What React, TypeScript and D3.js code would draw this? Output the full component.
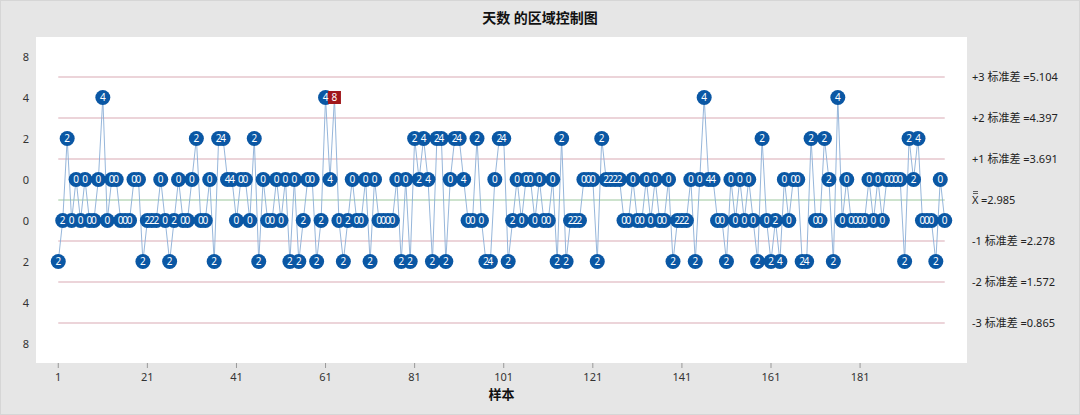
import React from "react";
import * as d3 from "d3";

// zone codes per sample: +1 = C above, +2 = B above, +3 = A above; negatives below centre
const zones: number[] = [
  -2, -1, 2, -1, 1, -1, 1, -1, -1, 1,
  3, -1, 1, 1, -1, -1, -1, 1, 1, -2,
  -1, -1, -1, 1, -1, -2, -1, 1, -1, -1,
  1, 2, -1, -1, 1, -2, 2, 2, 1, 1,
  -1, 1, 1, -1, 2, -2, 1, -1, -1, 1,
  -1, 1, -2, 1, -2, -1, 1, 1, -2, -1,
  3, 1, 3, -1, -2, -1, 1, -1, -1, 1,
  -2, 1, -1, -1, -1, -1, 1, -2, 1, -2,
  2, 1, 2, 1, -2, 2, 2, -2, 1, 2,
  2, 1, -1, -1, 2, -1, -2, -2, 1, 2,
  2, -2, -1, 1, -1, 1, 1, -1, 1, -1,
  -1, 1, -2, 2, -2, -1, -1, -1, 1, 1,
  1, -2, 2, 1, 1, 1, 1, -1, -1, 1,
  -1, -1, 1, -1, 1, -1, -1, 1, -2, -1,
  -1, -1, 1, -2, 1, 3, 1, 1, -1, -1,
  -2, 1, -1, 1, -1, 1, -1, -2, 2, -1,
  -2, -1, -2, 1, -1, 1, 1, -2, -2, 2,
  -1, -1, 2, 1, -2, 3, -1, 1, -1, -1,
  -1, -1, 1, -1, 1, -1, 1, 1, 1, 1,
  -2, 2, 1, 2, -1, -1, -1, -2, 1, -1,
];

const zoneWeights: number[] = [0, 2, 4, 8]; // C, B, A, beyond
const yTickLabels: string[] = ["8", "4", "2", "0", "0", "2", "4", "8"];
const yTickPos: number[] = [3.5, 2.5, 1.5, 0.5, -0.5, -1.5, -2.5, -3.5];
const xTicks: number[] = [1, 21, 41, 61, 81, 101, 121, 141, 161, 181];
const limitLevels: number[] = [3, 2, 1, -1, -2, -3];
const limitLabels: string[] = [
  "+3 标准差 =5.104",
  "+2 标准差 =4.397",
  "+1 标准差 =3.691",
  "-1 标准差 =2.278",
  "-2 标准差 =1.572",
  "-3 标准差 =0.865",
];
const centerLabel = "=2.985";

const W = 1080;
const H = 415;
const plot = { left: 36, right: 967, top: 37, bottom: 363 };
const FONT = "'Noto Sans', 'Noto Sans CJK SC', sans-serif";

export default function App() {
  const n = zones.length;
  const x = d3.scaleLinear().domain([-4, n + 5]).range([plot.left, plot.right]);
  const y = d3.scaleLinear().domain([3, -3]).range([77, 323]);

  // cumulative zone scores
  const scores: number[] = [];
  let cum = 0;
  let prevSign = 0;
  let reset = false;
  zones.forEach((z, i) => {
    const s = Math.sign(z);
    const w = zoneWeights[Math.abs(z) - 1];
    if (i === 0 || s !== prevSign || reset) cum = 0;
    cum += w;
    reset = cum >= 8;
    scores.push(cum);
    prevSign = s;
  });

  const pts = zones.map((z, i) => ({
    i: i + 1,
    yv: Math.sign(z) * (Math.abs(z) - 0.5),
    score: scores[i],
  }));

  const line = d3
    .line<{ i: number; yv: number }>()
    .x((d) => x(d.i))
    .y((d) => y(d.yv));

  const x0 = x(1);
  const x1 = x(n);

  return (
    <svg
      width={W}
      height={H}
      style={{ position: "absolute", left: 0, top: 0, fontFamily: FONT }}
    >
      <rect x={0} y={0} width={W} height={H} fill="#e6e6e6" />
      <rect x={0.5} y={0.5} width={W - 1} height={H - 1} fill="none" stroke="#d6d6d6" />
      <text x={540} y={23} textAnchor="middle" fontSize={14} fontWeight="bold" fill="#111">
        天数 的区域控制图
      </text>
      <rect
        x={plot.left}
        y={plot.top}
        width={plot.right - plot.left}
        height={plot.bottom - plot.top}
        fill="#ffffff"
      />
      {/* limit lines */}
      {limitLevels.map((lv) => (
        <line
          key={lv}
          x1={x0}
          x2={x1}
          y1={y(lv)}
          y2={y(lv)}
          stroke="#d9a9b3"
          strokeWidth={1}
        />
      ))}
      <line x1={x0} x2={x1} y1={y(0)} y2={y(0)} stroke="#9cc79c" strokeWidth={1} />
      {/* y tick labels */}
      {yTickLabels.map((t, k) => (
        <text
          key={k}
          x={26}
          y={y(yTickPos[k]) + 4}
          textAnchor="middle"
          fontSize={11}
          fill="#333"
        >
          {t}
        </text>
      ))}
      {/* x axis ticks */}
      {xTicks.map((t) => (
        <g key={t}>
          <line x1={x(t)} x2={x(t)} y1={plot.bottom} y2={plot.bottom + 5} stroke="#999" />
          <text x={x(t)} y={381} textAnchor="middle" fontSize={11} fill="#333">
            {t}
          </text>
        </g>
      ))}
      <text
        x={(plot.left + plot.right) / 2}
        y={399}
        textAnchor="middle"
        fontSize={13}
        fontWeight="bold"
        fill="#111"
      >
        样本
      </text>
      {/* right labels */}
      {limitLevels.map((lv, k) => (
        <text key={lv} x={972} y={y(lv) + 4} fontSize={11} fill="#222">
          {limitLabels[k]}
        </text>
      ))}
      <g>
        <text x={972} y={y(0) + 4} fontSize={11} fill="#222">
          X
        </text>
        <line x1={973} x2={978} y1={y(0) - 6.5} y2={y(0) - 6.5} stroke="#222" strokeWidth={0.7} />
        <line x1={973} x2={978} y1={y(0) - 8.5} y2={y(0) - 8.5} stroke="#222" strokeWidth={0.7} />
        <text x={981} y={y(0) + 4} fontSize={11} fill="#222">
          {centerLabel}
        </text>
      </g>
      {/* connecting line */}
      <path d={line(pts) || ""} fill="none" stroke="#8aaed6" strokeWidth={0.9} />
      {/* markers */}
      {pts.map((p) =>
        p.score >= 8 ? (
          <rect
            key={p.i}
            x={x(p.i) - 6.5}
            y={y(p.yv) - 6.5}
            width={13}
            height={13}
            fill="#a0171c"
          />
        ) : (
          <circle key={p.i} cx={x(p.i)} cy={y(p.yv)} r={7.5} fill="#0a57a4" />
        )
      )}
      {pts.map((p) => (
        <text
          key={"t" + p.i}
          x={x(p.i)}
          y={y(p.yv) + 3.6}
          textAnchor="middle"
          fontSize={10}
          fill="#ffffff"
        >
          {p.score}
        </text>
      ))}
    </svg>
  );
}
